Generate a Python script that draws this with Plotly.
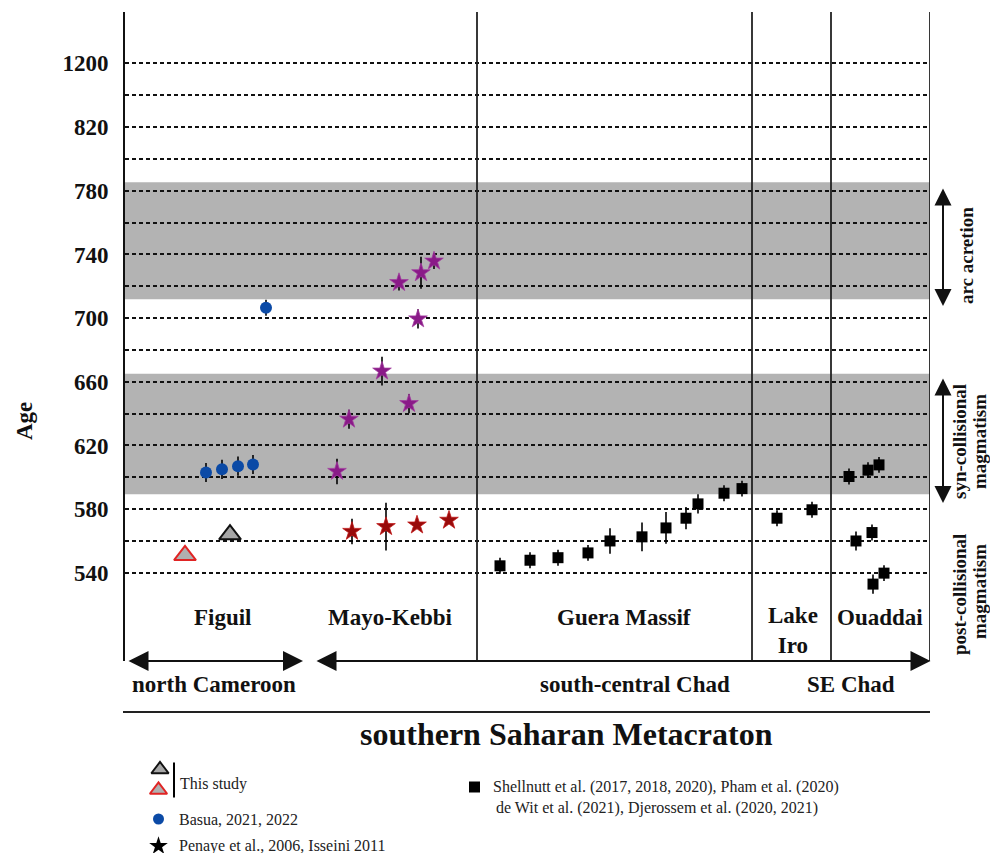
import plotly.graph_objects as go

W, H = 990, 853
FONT = "Liberation Serif"

# ---------------- data ----------------
grid_vals = list(range(540, 861, 20))
label_map = {540: "540", 580: "580", 620: "620", 660: "660", 700: "700",
             740: "740", 780: "780", 820: "820", 860: "1200"}
tick_text = [label_map.get(v, "") for v in grid_vals]

# This study
tri_gray_x = [10.5]
tri_gray_age = [564]
tri_red_x = [6.0]
tri_red_age = [551]

# Basua, 2021, 2022
basua_x = [8.1, 9.7, 11.3, 12.8, 14.1]
basua_age = [603, 605, 607, 608, 706.5]
basua_err = [6, 6, 6, 6, 5]

# Penaye et al. 2006, Isseini 2011 (purple)
pen_p_x = [21.2, 22.4, 25.7, 28.4, 29.3, 27.4, 29.6, 30.9]
pen_p_age = [603.7, 636.5, 666.7, 646.3, 699.5, 722.3, 728.5, 735.8]
pen_p_err = [8, 6, 9, 6, 6, 5, 10, 5]

# Penaye et al. 2006, Isseini 2011 (dark red)
pen_r_x = [22.7, 26.1, 29.2, 32.4]
pen_r_age = [566, 569, 570, 573]
pen_r_err = [8, 15, 1, 1]

# Shellnutt et al., Pham et al., de Wit et al., Djerossem et al.
guera_x = [37.5, 40.5, 43.3, 46.3, 48.5, 51.7, 54.1, 56.1, 57.3, 59.9, 61.7]
guera_age = [544.4, 547.9, 549.5, 552.5, 560, 562.6, 568.2, 574.3, 583.3, 590, 592.9]
guera_err = [5, 5, 5, 5, 8, 9, 10, 7, 6, 5, 5]
iro_x = [65.2, 68.7]
iro_age = [574.3, 579.6]
iro_err = [5, 5]
ouad_x = [72.4, 74.3, 75.4, 73.1, 74.7, 74.8, 75.9]
ouad_age = [600.5, 604.5, 607.8, 560, 565.3, 532.9, 539.8]
ouad_err = [5, 5, 5, 6, 5, 6, 5]

sq_x = guera_x + iro_x + ouad_x
sq_age = guera_age + iro_age + ouad_age
sq_err = guera_err + iro_err + ouad_err

# region boundaries (x units) and bands (Ma)
dividers = [35.2, 62.7, 70.6]
x_max = 80.5
bands = [(711.9, 785.4), (589.3, 665.0)]

regions = [("Figuil", 9.8), ("Mayo-Kebbi", 26.5), ("Guera Massif", 49.9),
           ("Lake<br>Iro", 66.75), ("Ouaddai", 75.5)]

# ---------------- helpers ----------------
def px(xp):
    return xp / W

def py(yp):
    return 1 - yp / H

fig = go.Figure()

def add_pts(x, y, err, symbol, size, color, lcolor, lwidth):
    fig.add_trace(go.Scatter(
        x=x, y=y, mode="markers",
        marker=dict(symbol=symbol, size=size, color=color,
                    line=dict(color=lcolor, width=lwidth)),
        error_y=dict(type="data", array=err, color="black", thickness=1.6, width=0)
        if err is not None else None,
        showlegend=False, hoverinfo="skip", cliponaxis=False))

add_pts(sq_x, sq_age, sq_err, "square", 11, "black", "black", 0)
add_pts(pen_r_x, pen_r_age, pen_r_err, "star", 14, "#980b0b", "#c01818", 0.8)
add_pts(pen_p_x, pen_p_age, pen_p_err, "star", 14, "#8a1a88", "#a23fa0", 0.8)
add_pts(basua_x, basua_age, basua_err, "circle", 12, "#0b4aa6", "#0b4aa6", 0)
add_pts(tri_gray_x, tri_gray_age, None, "triangle-up", 19, "#a6a6a6", "#111111", 2)
add_pts(tri_red_x, tri_red_age, None, "triangle-up", 19, "#b0b0b0", "#e02424", 2)

# ---------------- legend (overlay in pixel coordinates) ----------------
leg_items = [
    ("triangle-up", 15, "#a6a6a6", "#111111", 2, 160, 769.5),
    ("triangle-up", 15, "#b0b0b0", "#e02424", 2, 158.5, 790),
    ("circle", 11, "#0b4aa6", "#0b4aa6", 0, 158.5, 819),
    ("star", 14, "black", "black", 0, 158.5, 846),
    ("square", 11, "black", "black", 0, 474.5, 787),
]
for sym, sz, col, lc, lw, lx, ly in leg_items:
    fig.add_trace(go.Scatter(
        x=[lx], y=[ly], xaxis="x2", yaxis="y2", mode="markers",
        marker=dict(symbol=sym, size=sz, color=col, line=dict(color=lc, width=lw)),
        showlegend=False, hoverinfo="skip", cliponaxis=False))

leg_texts = [
    ("This study", 178, 784),
    ("Basua, 2021, 2022", 177, 819),
    ("Penaye et al., 2006, Isseini 2011", 177, 846),
    ("Shellnutt et al. (2017, 2018, 2020), Pham et al. (2020)", 491, 787),
    ("de Wit et al. (2021), Djerossem et al. (2020, 2021)", 494, 808),
]

shapes = []
annotations = []

for t, lx, ly in leg_texts:
    annotations.append(dict(text=t, x=px(lx), y=py(ly), xref="paper", yref="paper",
                            xanchor="left", yanchor="middle", showarrow=False,
                            font=dict(family=FONT, size=16, color="#222")))

# "This study" bracket line
shapes.append(dict(type="line", xref="paper", yref="paper",
                   x0=px(174), x1=px(174), y0=py(762.5), y1=py(797.5),
                   line=dict(color="black", width=2)))

# grey bands
for b0, b1 in bands:
    shapes.append(dict(type="rect", xref="x", yref="y", x0=0, x1=x_max, y0=b0, y1=b1,
                       fillcolor="#b3b3b3", line=dict(width=0), layer="below"))

# dividers and right border
for d in dividers:
    shapes.append(dict(type="line", xref="x", yref="y domain", x0=d, x1=d, y0=0, y1=1,
                       line=dict(color="#222", width=1.8)))
shapes.append(dict(type="line", xref="x", yref="y domain", x0=x_max, x1=x_max, y0=0, y1=1,
                   line=dict(color="#222", width=1.8)))

# separator line above title
shapes.append(dict(type="line", xref="paper", yref="paper",
                   x0=px(123), x1=px(930), y0=py(712), y1=py(712),
                   line=dict(color="#222", width=2)))

# region labels
for name, rx in regions:
    annotations.append(dict(text=name, x=rx, y=py(617) if "<br>" not in name else py(630),
                            xref="x", yref="paper", showarrow=False,
                            xanchor="center", yanchor="middle",
                            font=dict(family=FONT, size=23, color="#111", weight="bold")))

# lower labels
for t, cx in [("north Cameroon", 214), ("south-central Chad", 634.5), ("SE Chad", 851)]:
    annotations.append(dict(text=t, x=px(cx), y=py(684), xref="paper", yref="paper",
                            showarrow=False, xanchor="center", yanchor="middle",
                            font=dict(family=FONT, size=23, color="#111", weight="bold")))

annotations.append(dict(text="southern Saharan Metacraton", x=px(566), y=py(734),
                        xref="paper", yref="paper", showarrow=False,
                        xanchor="center", yanchor="middle",
                        font=dict(family=FONT, size=32, color="#111", weight="bold")))

annotations.append(dict(text="Age", x=px(25), y=py(421), xref="paper", yref="paper",
                        showarrow=False, textangle=-90, xanchor="center", yanchor="middle",
                        font=dict(family=FONT, size=23, color="#111", weight="bold")))

# right side labels
for t, cx, cy in [("arc acretion", 967, 256), ("syn-collisional", 959, 442),
                  ("magmatism", 979, 442), ("post-collisional", 959, 595),
                  ("magmatism", 979, 592)]:
    annotations.append(dict(text=t, x=px(cx), y=py(cy), xref="paper", yref="paper",
                            showarrow=False, textangle=-90, xanchor="center", yanchor="middle",
                            font=dict(family=FONT, size=19, color="#111", weight="bold")))

# arrows (in the pixel-overlay axes x2/y2)
def dbl_arrow(x0, y0, x1, y1, size=2.0):
    annotations.append(dict(text="", x=x1, y=y1, ax=x0, ay=y0,
                            xref="x2", yref="y2", axref="x2", ayref="y2",
                            showarrow=True, arrowhead=2, startarrowhead=2,
                            arrowside="end+start", arrowsize=size, startarrowsize=size,
                            arrowwidth=2, arrowcolor="#111", standoff=0, startstandoff=0))

dbl_arrow(127, 661, 303, 661)
dbl_arrow(315, 661, 930.5, 661)
dbl_arrow(943, 187, 943, 306, 1.7)
dbl_arrow(943, 377, 943, 503, 1.7)

fig.update_layout(
    width=W, height=H, autosize=False,
    margin=dict(l=0, r=0, t=0, b=0),
    paper_bgcolor="white", plot_bgcolor="rgba(0,0,0,0)",
    showlegend=False,
    shapes=shapes, annotations=annotations,
    xaxis=dict(domain=[px(125), px(930)], range=[0, x_max], visible=False,
               showgrid=False, zeroline=False, fixedrange=True),
    yaxis=dict(domain=[py(661), py(12)], range=[484.6, 892.3],
               tickmode="array", tickvals=grid_vals, ticktext=tick_text,
               showgrid=True, gridcolor="#111", gridwidth=1.8, griddash="4px,3px",
               showline=True, linecolor="#111", linewidth=2, ticks="",
               ticklabelstandoff=10, zeroline=False,
               tickfont=dict(family=FONT, size=23, color="#111", weight="bold")),
    xaxis2=dict(domain=[0, 1], range=[0, W], visible=False, anchor="y2"),
    yaxis2=dict(domain=[0, 1], range=[H, 0], visible=False, anchor="x2"),
)

fig.write_html("out.html")
